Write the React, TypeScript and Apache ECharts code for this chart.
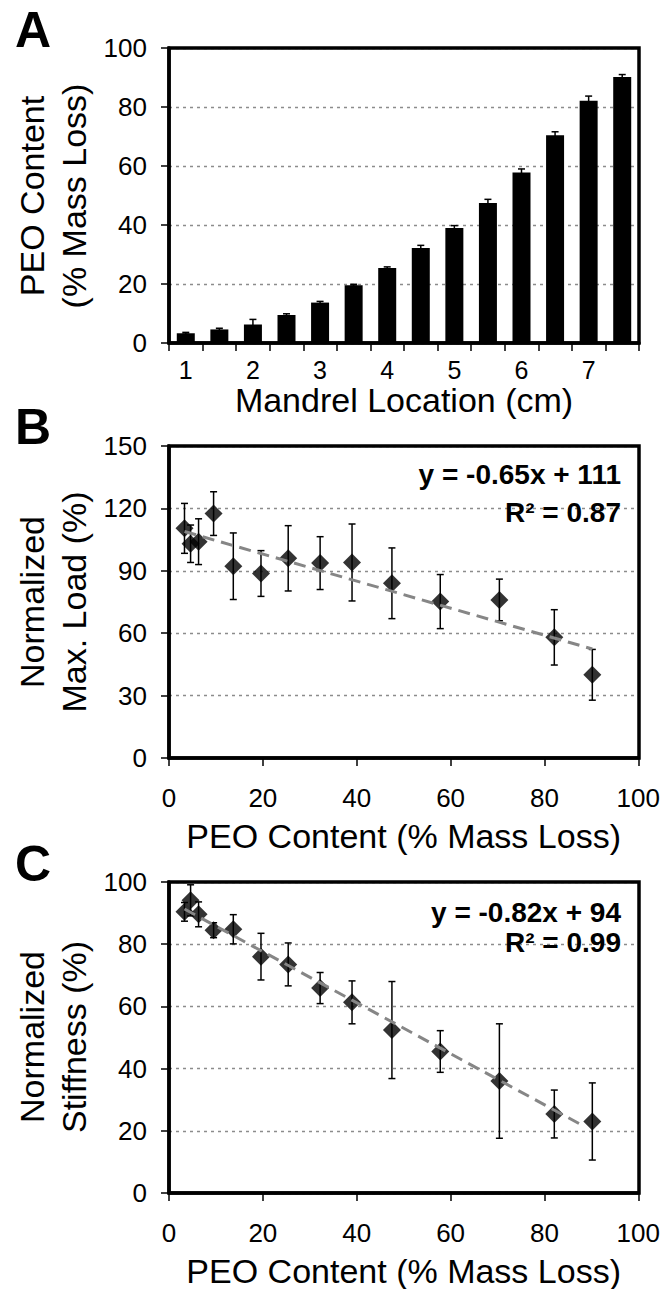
import React, { useEffect, useRef } from 'react';
import * as echarts from 'echarts';

// Panel A: PEO content along mandrel
const locations = ['1', '1.5', '2', '2.5', '3', '3.5', '4', '4.5', '5', '5.5', '6', '6.5', '7', '7.5'];
const peoContent = [3.3, 4.6, 6.3, 9.5, 13.7, 19.6, 25.4, 32.2, 39.0, 47.5, 57.8, 70.4, 82.1, 90.2];
const peoErr = [0.3, 0.4, 1.7, 0.4, 0.4, 0.3, 0.4, 0.9, 0.8, 1.2, 1.2, 1.2, 1.6, 0.8];

// Panel B: normalized max load
const maxLoad = [110.4, 103.0, 104.0, 117.5, 92.2, 88.7, 96.0, 93.7, 94.0, 84.0, 75.2, 76.0, 58.0, 40.0];
const maxLoadErr = [12, 9, 11, 10.5, 16, 11, 15.7, 12.7, 18.5, 17, 13, 10, 13.3, 12.2];
const loadTrend = [[3.3, 108.9], [90.2, 52.4]];
const loadEq = ['y = -0.65x + 111', 'R² = 0.87'];

// Panel C: normalized stiffness
const stiffness = [90.4, 94.1, 89.6, 84.5, 84.8, 76.0, 73.5, 65.9, 61.3, 52.4, 45.5, 36.0, 25.4, 23.0];
const stiffErr = [3, 5, 4, 2.4, 4.7, 7.5, 6.9, 5, 6.9, 15.6, 6.7, 18.4, 7.7, 12.4];
const stiffTrend = [[3.3, 91.3], [88.5, 21.4]];
const stiffEq = ['y = -0.82x + 94', 'R² = 0.99'];

const FONT = 'Liberation Sans';

const errRender = (capW: number) => (params: any, api: any) => {
  const x = api.value(0);
  const lo = api.coord([x, api.value(1)]);
  const hi = api.coord([x, api.value(2)]);
  const st = { stroke: '#000', lineWidth: 1.5 };
  return {
    type: 'group',
    children: [
      { type: 'line', shape: { x1: lo[0], y1: lo[1], x2: hi[0], y2: hi[1] }, style: st },
      { type: 'line', shape: { x1: lo[0] - capW, y1: lo[1], x2: lo[0] + capW, y2: lo[1] }, style: st },
      { type: 'line', shape: { x1: hi[0] - capW, y1: hi[1], x2: hi[0] + capW, y2: hi[1] }, style: st },
    ],
  };
};

export default function App() {
  const ref = useRef<HTMLDivElement>(null);
  useEffect(() => {
    if (!ref.current) return;
    const chart = echarts.init(ref.current, undefined, { renderer: 'svg' });

    const GL = 169;
    const GR = 24;
    const GW = 663 - GL - GR;
    const panels = [
      { top: 48, height: 295 },
      { top: 446, height: 312 },
      { top: 882, height: 311 },
    ];

    const tickStyle = { show: true, inside: false, length: 8, lineStyle: { color: '#000', width: 1.5 } };
    const axisLine = { show: true, onZero: false, lineStyle: { color: '#000', width: 3.5 } };
    const lbl = { color: '#000', fontFamily: FONT, fontSize: 26, lineHeight: 20 };
    const split = { show: true, lineStyle: { color: '#8c8c8c', width: 1.3, type: [3, 4] } };
    const nameStyle = { color: '#000', fontFamily: FONT, fontSize: 34, lineHeight: 28 };

    const valX = (gi: number) => ({
      type: 'value', gridIndex: gi, min: 0, max: 100, interval: 20,
      axisLine, axisTick: tickStyle, splitLine: { show: false },
      axisLabel: { ...lbl, margin: 30 },
      name: 'PEO Content (% Mass Loss)', nameLocation: 'middle', nameGap: 64, nameTextStyle: nameStyle,
    });
    const valY = (gi: number, max: number, interval: number) => ({
      type: 'value', gridIndex: gi, min: 0, max, interval,
      axisLine, axisTick: tickStyle, splitLine: split,
      axisLabel: { ...lbl, margin: 22 },
    });

    const yTitle = (x: number, y: number, text: string) => ({
      type: 'text', x, y, rotation: Math.PI / 2,
      style: { text, fontFamily: FONT, fontSize: 34, fill: '#000', align: 'center', verticalAlign: 'middle' },
    });
    const letter = (y: number, text: string) => ({
      type: 'text', x: 15, y,
      style: { text, fontFamily: FONT, fontSize: 50, fontWeight: 'bold', fill: '#000', align: 'left', verticalAlign: 'middle' },
    });
    const eq = (y: number, text: string) => ({
      type: 'text', x: 621, y, z: 100,
      style: { text, fontFamily: FONT, fontSize: 28, fontWeight: 'bold', fill: '#000', align: 'right', verticalAlign: 'middle' },
    });
    const frame = (p: { top: number; height: number }) => ({
      type: 'rect', z: 100, silent: true,
      shape: { x: GL, y: p.top, width: GW, height: p.height },
      style: { fill: 'none', stroke: '#000', lineWidth: 3.5 },
    });

    const trendStyle = { color: '#868686', width: 3, type: [12, 7] };

    chart.setOption({
      animation: false,
      backgroundColor: '#fff',
      grid: panels.map((p) => ({ left: GL, right: GR, top: p.top, height: p.height })),
      xAxis: [
        {
          type: 'category', gridIndex: 0, data: locations, boundaryGap: true,
          axisLine, axisTick: { ...tickStyle, interval: 0, alignWithLabel: false },
          axisLabel: { ...lbl, fontSize: 25, margin: 17, interval: 1 },
          splitLine: { show: false },
          name: 'Mandrel Location (cm)', nameLocation: 'middle', nameGap: 43, nameTextStyle: nameStyle,
        },
        valX(1),
        valX(2),
      ],
      yAxis: [valY(0, 100, 20), valY(1, 150, 30), valY(2, 100, 20)],
      series: [
        {
          type: 'bar', xAxisIndex: 0, yAxisIndex: 0, data: peoContent, barWidth: 18,
          itemStyle: { color: '#000' },
        },
        {
          type: 'custom', xAxisIndex: 0, yAxisIndex: 0, z: 5,
          renderItem: errRender(3.5),
          encode: { x: 0, y: [1, 2] },
          data: peoContent.map((v, i) => [i, v - peoErr[i], v + peoErr[i]]),
        },
        {
          type: 'custom', xAxisIndex: 1, yAxisIndex: 1, z: 5,
          renderItem: errRender(3.5),
          encode: { x: 0, y: [1, 2] },
          data: peoContent.map((x, i) => [x, maxLoad[i] - maxLoadErr[i], maxLoad[i] + maxLoadErr[i]]),
        },
        {
          type: 'scatter', xAxisIndex: 1, yAxisIndex: 1, z: 6, symbol: 'diamond', symbolSize: 18,
          itemStyle: { color: '#000' },
          data: peoContent.map((x, i) => [x, maxLoad[i]]),
        },
        {
          type: 'line', xAxisIndex: 1, yAxisIndex: 1, z: 7, showSymbol: false, symbol: 'none',
          lineStyle: trendStyle, data: loadTrend,
        },
        {
          type: 'custom', xAxisIndex: 2, yAxisIndex: 2, z: 5,
          renderItem: errRender(3.5),
          encode: { x: 0, y: [1, 2] },
          data: peoContent.map((x, i) => [x, stiffness[i] - stiffErr[i], stiffness[i] + stiffErr[i]]),
        },
        {
          type: 'scatter', xAxisIndex: 2, yAxisIndex: 2, z: 6, symbol: 'diamond', symbolSize: 18,
          itemStyle: { color: '#000' },
          data: peoContent.map((x, i) => [x, stiffness[i]]),
        },
        {
          type: 'line', xAxisIndex: 2, yAxisIndex: 2, z: 7, showSymbol: false, symbol: 'none',
          lineStyle: trendStyle, data: stiffTrend,
        },
      ],
      graphic: [
        ...panels.map(frame),
        letter(30, 'A'),
        letter(427, 'B'),
        letter(864, 'C'),
        yTitle(32, 196, 'PEO Content'),
        yTitle(74, 196, '(% Mass Loss)'),
        yTitle(32, 602, 'Normalized'),
        yTitle(74, 602, 'Max. Load (%)'),
        yTitle(32, 1037, 'Normalized'),
        yTitle(74, 1037, 'Stiffness (%)'),
        eq(474, loadEq[0]),
        eq(512, loadEq[1]),
        eq(912, stiffEq[0]),
        eq(942, stiffEq[1]),
      ],
    });
    return () => chart.dispose();
  }, []);

  return (
    <div
      ref={ref}
      style={{ position: 'absolute', left: 0, top: 0, width: 663, height: 1289, background: '#fff' }}
    />
  );
}
